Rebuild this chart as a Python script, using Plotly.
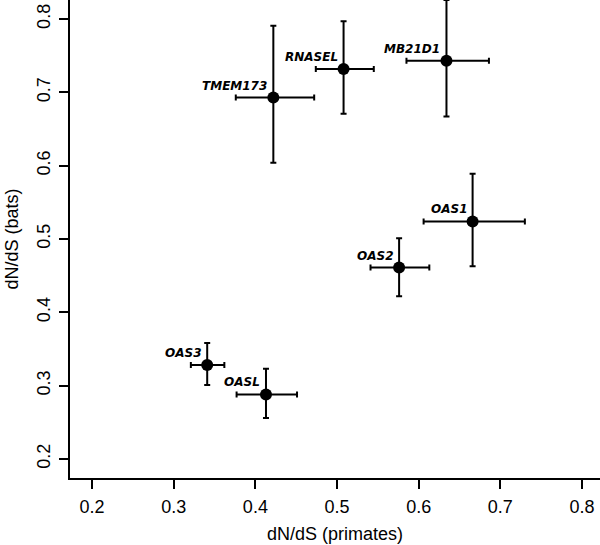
import plotly.graph_objects as go

genes = ["TMEM173", "RNASEL", "MB21D1", "OAS1", "OAS2", "OAS3", "OASL"]
primates = [0.422, 0.508, 0.634, 0.666, 0.576, 0.341, 0.413]
primates_lo = [0.376, 0.474, 0.585, 0.606, 0.541, 0.321, 0.377]
primates_hi = [0.472, 0.545, 0.686, 0.730, 0.613, 0.362, 0.451]
bats = [0.693, 0.732, 0.743, 0.524, 0.461, 0.328, 0.288]
bats_lo = [0.604, 0.671, 0.667, 0.463, 0.422, 0.301, 0.256]
bats_hi = [0.791, 0.797, 0.826, 0.589, 0.501, 0.358, 0.323]

x_ticks = [0.2, 0.3, 0.4, 0.5, 0.6, 0.7, 0.8]
y_ticks = [0.2, 0.3, 0.4, 0.5, 0.6, 0.7, 0.8]

fig = go.Figure()
fig.add_trace(go.Scatter(
    x=primates, y=bats, mode="markers",
    marker=dict(color="black", size=12),
    error_x=dict(type="data",
                 array=[h - v for h, v in zip(primates_hi, primates)],
                 arrayminus=[v - l for v, l in zip(primates, primates_lo)],
                 color="black", thickness=2, width=3),
    error_y=dict(type="data",
                 array=[h - v for h, v in zip(bats_hi, bats)],
                 arrayminus=[v - l for v, l in zip(bats, bats_lo)],
                 color="black", thickness=2, width=3),
    showlegend=False, cliponaxis=False,
))

for g, xv, yv in zip(genes, primates, bats):
    fig.add_annotation(x=xv, y=yv, text=g, showarrow=False,
                       xanchor="right", yanchor="bottom",
                       xshift=-4, yshift=3,
                       font=dict(family="DejaVu Sans", size=12, color="black",
                                 style="italic", weight="bold"))

axis_common = dict(showgrid=False, zeroline=False, showline=True, linecolor="black",
                   linewidth=2, ticks="outside", ticklen=9, tickwidth=2, tickcolor="black",
                   automargin=False,
                   tickfont=dict(family="Liberation Sans", size=18, color="black"))

fig.update_xaxes(range=[0.173, 0.822], tickvals=x_ticks, ticktext=[f"{v:.1f}" for v in x_ticks],
                 ticklabelstandoff=2,
                 title=dict(text="dN/dS (primates)", font=dict(family="Liberation Sans", size=18, color="black"), standoff=12),
                 **axis_common)
fig.update_yaxes(range=[0.174, 0.826], tickvals=y_ticks, ticktext=[f"{v:.1f}" for v in y_ticks],
                 tickangle=-90, ticklabelstandoff=2,
                 title=dict(text="dN/dS (bats)", font=dict(family="Liberation Sans", size=18, color="black"), standoff=10),
                 **axis_common)

fig.update_layout(width=600, height=545, margin=dict(l=70, r=0, t=0, b=67),
                  plot_bgcolor="white", paper_bgcolor="white")

fig.write_html("out.html", config={"displayModeBar": False},
               post_script="document.body.style.margin='0px';document.body.style.overflow='hidden';")
